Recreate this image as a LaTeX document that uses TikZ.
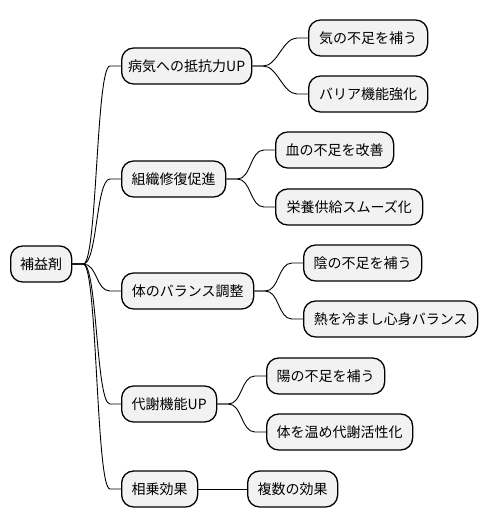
\documentclass[tikz,border=0pt]{standalone}
\usepackage{fontspec}
\setmainfont{Noto Sans CJK JP}
\usetikzlibrary{calc}
\tikzset{
  x=1pt,y=-1pt,
  mm/.style={draw=black, line width=1.3pt, fill=gray!10!white, rounded corners=12pt,
    minimum height=36pt, inner sep=0pt, anchor=west, font=\fontsize{14}{16}\selectfont},
  conn/.style={draw=black, line width=0.9pt},
}
\newcommand{\mmnode}[5]{\node[mm, minimum width=#4] (#1) at (#2,#3) {#5};}
\newcommand{\mmlink}[2]{\draw[conn] (#1.east) -- ++(11,0) .. controls +(14,0) and ($(#2.west)+(-25,0)$) .. ($(#2.west)+(-11,0)$) -- (#2.west);}
\begin{document}
\begin{tikzpicture}
\useasboundingbox (0,0) rectangle (488,527);
\mmnode{root}{10}{264}{61}{補益剤}
\mmnode{a1}{121}{66}{130}{病気への抵抗力UP}
\mmnode{a2}{121}{179}{104}{組織修復促進}
\mmnode{a3}{121}{291}{132}{体のバランス調整}
\mmnode{a4}{121}{404}{95}{代謝機能UP}
\mmnode{a5}{121}{489}{76}{相乗効果}
\mmnode{b1}{308}{38}{119}{気の不足を補う}
\mmnode{b2}{308}{94}{119}{バリア機能強化}
\mmnode{b3}{275}{150}{118}{血の不足を改善}
\mmnode{b4}{275}{207}{147}{栄養供給スムーズ化}
\mmnode{b5}{303}{263}{118}{陰の不足を補う}
\mmnode{b6}{303}{319}{174}{熱を冷まし心身バランス}
\mmnode{b7}{266}{376}{118}{陽の不足を補う}
\mmnode{b8}{266}{432}{146}{体を温め代謝活性化}
\mmnode{b9}{247}{489}{90}{複数の効果}
\mmlink{root}{a1}
\mmlink{root}{a2}
\mmlink{root}{a3}
\mmlink{root}{a4}
\mmlink{root}{a5}
\mmlink{a1}{b1}
\mmlink{a1}{b2}
\mmlink{a2}{b3}
\mmlink{a2}{b4}
\mmlink{a3}{b5}
\mmlink{a3}{b6}
\mmlink{a4}{b7}
\mmlink{a4}{b8}
\draw[conn] (a5.east) -- (b9.west);
\end{tikzpicture}
\end{document}
